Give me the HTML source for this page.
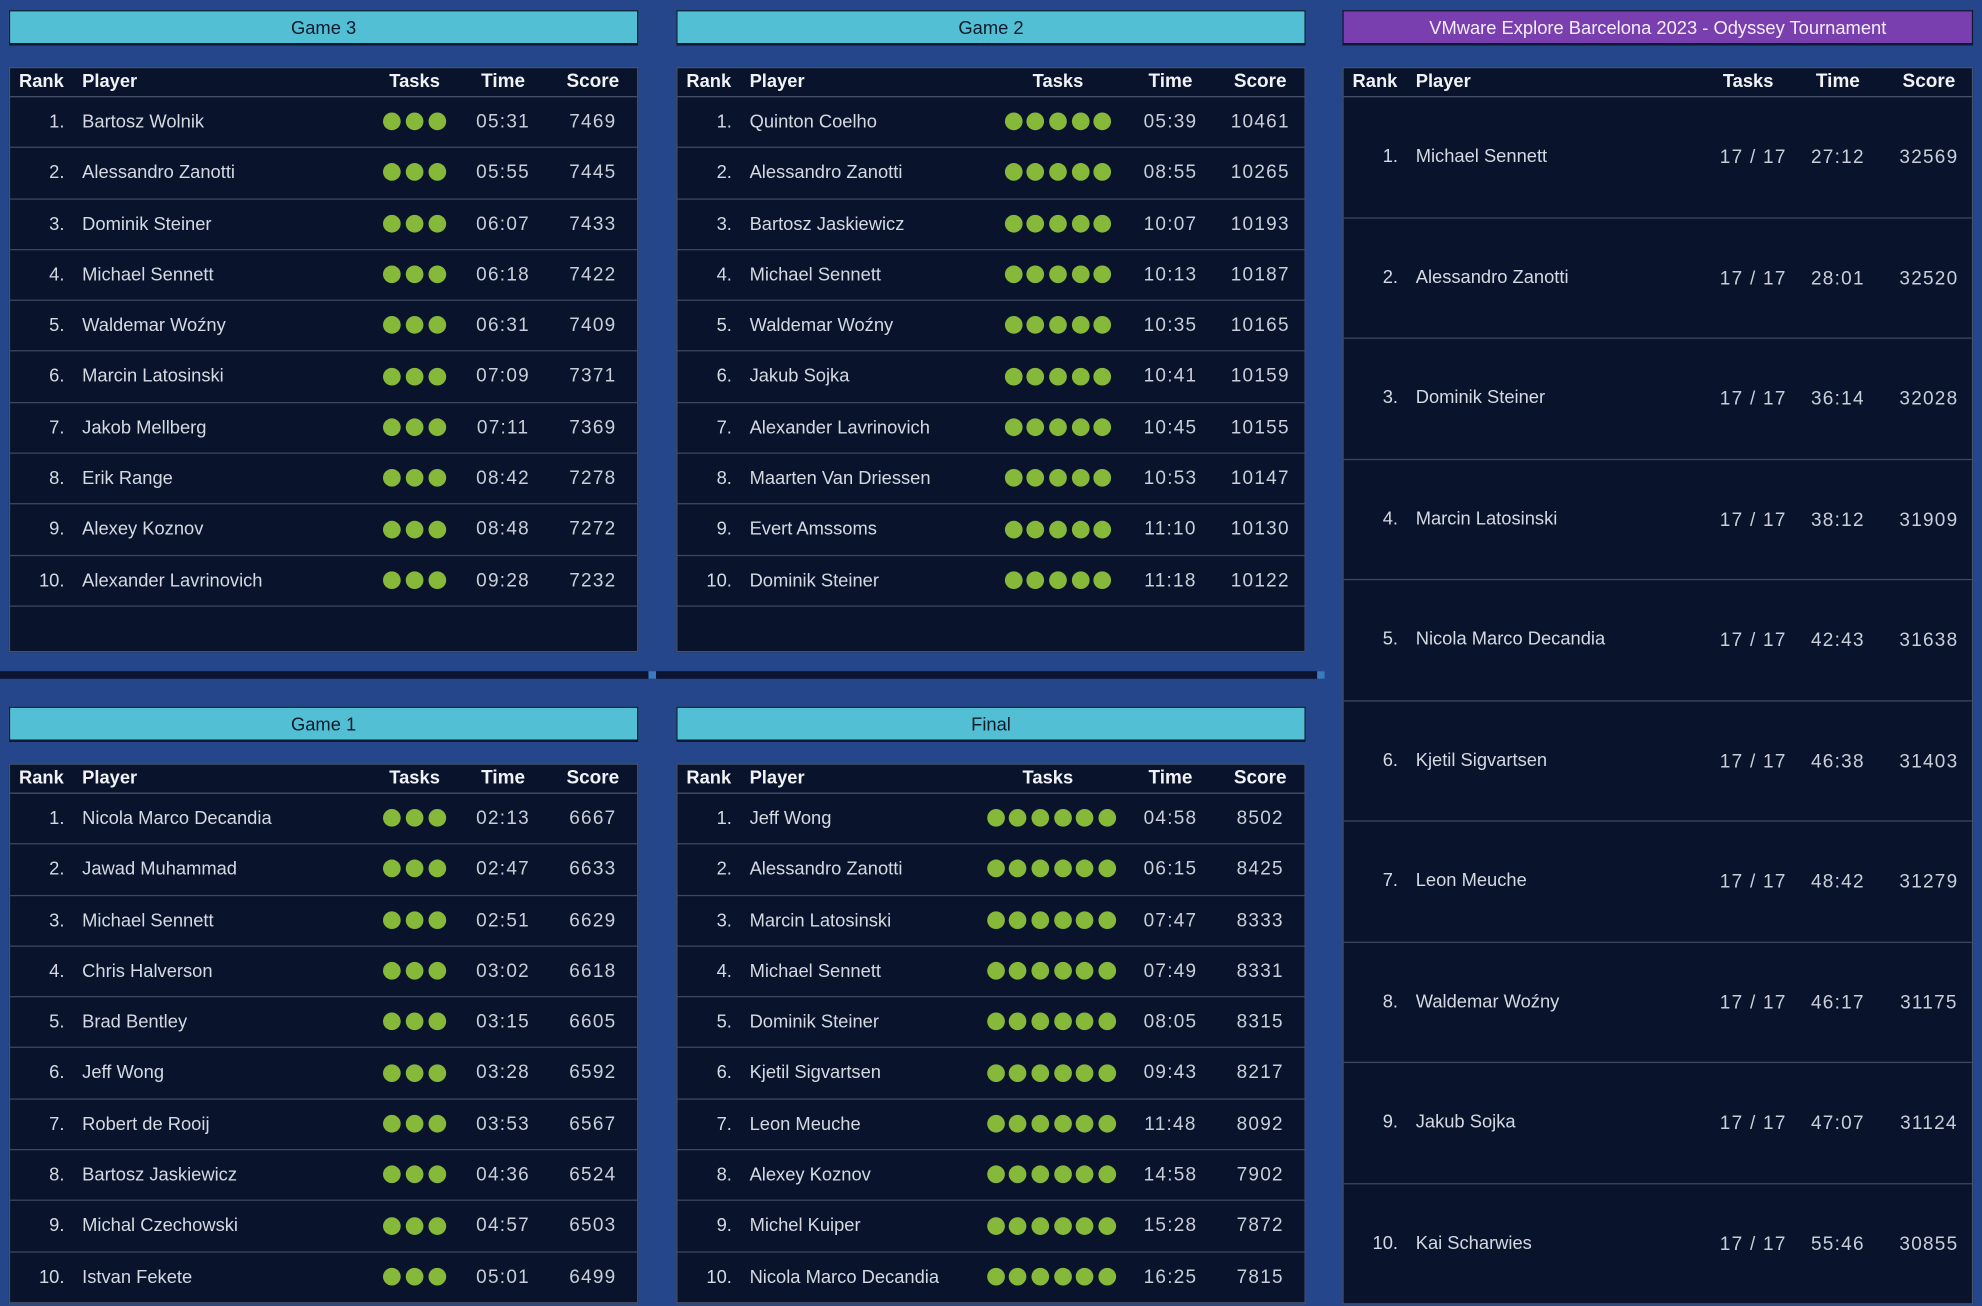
<!DOCTYPE html>
<html><head><meta charset="utf-8"><style>
html,body{margin:0;padding:0;width:1982px;height:1306px;overflow:hidden;background:#25468a;}
#w{position:absolute;left:0;top:0;width:1568px;height:1033px;transform:scale(1.26403);transform-origin:0 0;font-family:"Liberation Sans",sans-serif;}
.hd{position:absolute;height:28px;line-height:28px;text-align:center;font-size:14.5px;color:#0c1a2a;background:#52bfd4;border:1px solid #0a1a30;border-bottom:2px solid #0a1a30;box-sizing:border-box}
.hd.p{background:#7a3fae;color:#f2eefa}
.tb{position:absolute;background:#09142c;border:1px solid #45526b;box-sizing:border-box}
.th{position:relative;height:22px;border-bottom:1px solid #45526b;color:#f0f2f5;font-weight:bold;font-size:14.5px;line-height:22px}
.rw{position:relative;height:40.3px;border-bottom:1px solid #3c4862;box-sizing:border-box;color:#d4d9e2;font-size:14.5px;line-height:40px}
.big .rw{height:95.5px;line-height:95px}
.rw span,.th span{position:absolute;top:0;white-space:nowrap}
.a{left:0;width:43px;text-align:right}
.b{left:57px}
.c,.d,.e{width:100px;margin-left:-50px;text-align:center}
.d,.e{font-family:"Liberation Sans Narrow","Liberation Sans",sans-serif;color:#c9ced8;letter-spacing:1px;font-size:15px}
.dt{display:inline-block;width:14px;height:14px;border-radius:50%;background:#86b83a;margin:0 1.8px;vertical-align:middle;position:relative;top:-1px}
.g3 .c{left:320px}.g2 .c{left:301px}.gf .c{left:293px}.big .c{left:324px}
.d{left:390px}.e{left:461px}
.big .d{left:391px}.big .e{left:463px}
.th .a{left:7px;width:auto;text-align:left}
.sep{position:absolute;left:0;top:531px;width:1048px;height:6px;background:#0b1430}
.sq{position:absolute;top:531px;width:6px;height:6px;background:#3a7bc0}
</style></head><body><div id="w">

<div class="hd" style="left:7px;top:8px;width:498px">Game 3</div>
<div class="hd" style="left:535px;top:8px;width:498px">Game 2</div>
<div class="hd p" style="left:1062px;top:8px;width:499px">VMware Explore Barcelona 2023 - Odyssey Tournament</div>

<div class="tb g3" style="left:7px;top:53px;width:498px;height:463px">
<div class="th"><span class="a">Rank</span><span class="b">Player</span><span class="c">Tasks</span><span class="d" style="font-family:'Liberation Sans';letter-spacing:0;color:#f0f2f5">Time</span><span class="e" style="font-family:'Liberation Sans';letter-spacing:0;color:#f0f2f5">Score</span></div>
<div class="rw"><span class="a">1.</span><span class="b">Bartosz Wolnik</span><span class="c"><i class="dt"></i><i class="dt"></i><i class="dt"></i></span><span class="d">05:31</span><span class="e">7469</span></div>
<div class="rw"><span class="a">2.</span><span class="b">Alessandro Zanotti</span><span class="c"><i class="dt"></i><i class="dt"></i><i class="dt"></i></span><span class="d">05:55</span><span class="e">7445</span></div>
<div class="rw"><span class="a">3.</span><span class="b">Dominik Steiner</span><span class="c"><i class="dt"></i><i class="dt"></i><i class="dt"></i></span><span class="d">06:07</span><span class="e">7433</span></div>
<div class="rw"><span class="a">4.</span><span class="b">Michael Sennett</span><span class="c"><i class="dt"></i><i class="dt"></i><i class="dt"></i></span><span class="d">06:18</span><span class="e">7422</span></div>
<div class="rw"><span class="a">5.</span><span class="b">Waldemar Woźny</span><span class="c"><i class="dt"></i><i class="dt"></i><i class="dt"></i></span><span class="d">06:31</span><span class="e">7409</span></div>
<div class="rw"><span class="a">6.</span><span class="b">Marcin Latosinski</span><span class="c"><i class="dt"></i><i class="dt"></i><i class="dt"></i></span><span class="d">07:09</span><span class="e">7371</span></div>
<div class="rw"><span class="a">7.</span><span class="b">Jakob Mellberg</span><span class="c"><i class="dt"></i><i class="dt"></i><i class="dt"></i></span><span class="d">07:11</span><span class="e">7369</span></div>
<div class="rw"><span class="a">8.</span><span class="b">Erik Range</span><span class="c"><i class="dt"></i><i class="dt"></i><i class="dt"></i></span><span class="d">08:42</span><span class="e">7278</span></div>
<div class="rw"><span class="a">9.</span><span class="b">Alexey Koznov</span><span class="c"><i class="dt"></i><i class="dt"></i><i class="dt"></i></span><span class="d">08:48</span><span class="e">7272</span></div>
<div class="rw"><span class="a">10.</span><span class="b">Alexander Lavrinovich</span><span class="c"><i class="dt"></i><i class="dt"></i><i class="dt"></i></span><span class="d">09:28</span><span class="e">7232</span></div>
</div>

<div class="tb g2" style="left:535px;top:53px;width:498px;height:463px">
<div class="th"><span class="a">Rank</span><span class="b">Player</span><span class="c">Tasks</span><span class="d" style="font-family:'Liberation Sans';letter-spacing:0;color:#f0f2f5">Time</span><span class="e" style="font-family:'Liberation Sans';letter-spacing:0;color:#f0f2f5">Score</span></div>
<div class="rw"><span class="a">1.</span><span class="b">Quinton Coelho</span><span class="c"><i class="dt"></i><i class="dt"></i><i class="dt"></i><i class="dt"></i><i class="dt"></i></span><span class="d">05:39</span><span class="e">10461</span></div>
<div class="rw"><span class="a">2.</span><span class="b">Alessandro Zanotti</span><span class="c"><i class="dt"></i><i class="dt"></i><i class="dt"></i><i class="dt"></i><i class="dt"></i></span><span class="d">08:55</span><span class="e">10265</span></div>
<div class="rw"><span class="a">3.</span><span class="b">Bartosz Jaskiewicz</span><span class="c"><i class="dt"></i><i class="dt"></i><i class="dt"></i><i class="dt"></i><i class="dt"></i></span><span class="d">10:07</span><span class="e">10193</span></div>
<div class="rw"><span class="a">4.</span><span class="b">Michael Sennett</span><span class="c"><i class="dt"></i><i class="dt"></i><i class="dt"></i><i class="dt"></i><i class="dt"></i></span><span class="d">10:13</span><span class="e">10187</span></div>
<div class="rw"><span class="a">5.</span><span class="b">Waldemar Woźny</span><span class="c"><i class="dt"></i><i class="dt"></i><i class="dt"></i><i class="dt"></i><i class="dt"></i></span><span class="d">10:35</span><span class="e">10165</span></div>
<div class="rw"><span class="a">6.</span><span class="b">Jakub Sojka</span><span class="c"><i class="dt"></i><i class="dt"></i><i class="dt"></i><i class="dt"></i><i class="dt"></i></span><span class="d">10:41</span><span class="e">10159</span></div>
<div class="rw"><span class="a">7.</span><span class="b">Alexander Lavrinovich</span><span class="c"><i class="dt"></i><i class="dt"></i><i class="dt"></i><i class="dt"></i><i class="dt"></i></span><span class="d">10:45</span><span class="e">10155</span></div>
<div class="rw"><span class="a">8.</span><span class="b">Maarten Van Driessen</span><span class="c"><i class="dt"></i><i class="dt"></i><i class="dt"></i><i class="dt"></i><i class="dt"></i></span><span class="d">10:53</span><span class="e">10147</span></div>
<div class="rw"><span class="a">9.</span><span class="b">Evert Amssoms</span><span class="c"><i class="dt"></i><i class="dt"></i><i class="dt"></i><i class="dt"></i><i class="dt"></i></span><span class="d">11:10</span><span class="e">10130</span></div>
<div class="rw"><span class="a">10.</span><span class="b">Dominik Steiner</span><span class="c"><i class="dt"></i><i class="dt"></i><i class="dt"></i><i class="dt"></i><i class="dt"></i></span><span class="d">11:18</span><span class="e">10122</span></div>
</div>

<div class="sep"></div><div class="sq" style="left:513px"></div><div class="sq" style="left:1042px"></div>

<div class="hd" style="left:7px;top:559px;width:498px">Game 1</div>
<div class="hd" style="left:535px;top:559px;width:498px">Final</div>

<div class="tb g3" style="left:7px;top:604px;width:498px;height:428px">
<div class="th"><span class="a">Rank</span><span class="b">Player</span><span class="c">Tasks</span><span class="d" style="font-family:'Liberation Sans';letter-spacing:0;color:#f0f2f5">Time</span><span class="e" style="font-family:'Liberation Sans';letter-spacing:0;color:#f0f2f5">Score</span></div>
<div class="rw"><span class="a">1.</span><span class="b">Nicola Marco Decandia</span><span class="c"><i class="dt"></i><i class="dt"></i><i class="dt"></i></span><span class="d">02:13</span><span class="e">6667</span></div>
<div class="rw"><span class="a">2.</span><span class="b">Jawad Muhammad</span><span class="c"><i class="dt"></i><i class="dt"></i><i class="dt"></i></span><span class="d">02:47</span><span class="e">6633</span></div>
<div class="rw"><span class="a">3.</span><span class="b">Michael Sennett</span><span class="c"><i class="dt"></i><i class="dt"></i><i class="dt"></i></span><span class="d">02:51</span><span class="e">6629</span></div>
<div class="rw"><span class="a">4.</span><span class="b">Chris Halverson</span><span class="c"><i class="dt"></i><i class="dt"></i><i class="dt"></i></span><span class="d">03:02</span><span class="e">6618</span></div>
<div class="rw"><span class="a">5.</span><span class="b">Brad Bentley</span><span class="c"><i class="dt"></i><i class="dt"></i><i class="dt"></i></span><span class="d">03:15</span><span class="e">6605</span></div>
<div class="rw"><span class="a">6.</span><span class="b">Jeff Wong</span><span class="c"><i class="dt"></i><i class="dt"></i><i class="dt"></i></span><span class="d">03:28</span><span class="e">6592</span></div>
<div class="rw"><span class="a">7.</span><span class="b">Robert de Rooij</span><span class="c"><i class="dt"></i><i class="dt"></i><i class="dt"></i></span><span class="d">03:53</span><span class="e">6567</span></div>
<div class="rw"><span class="a">8.</span><span class="b">Bartosz Jaskiewicz</span><span class="c"><i class="dt"></i><i class="dt"></i><i class="dt"></i></span><span class="d">04:36</span><span class="e">6524</span></div>
<div class="rw"><span class="a">9.</span><span class="b">Michal Czechowski</span><span class="c"><i class="dt"></i><i class="dt"></i><i class="dt"></i></span><span class="d">04:57</span><span class="e">6503</span></div>
<div class="rw"><span class="a">10.</span><span class="b">Istvan Fekete</span><span class="c"><i class="dt"></i><i class="dt"></i><i class="dt"></i></span><span class="d">05:01</span><span class="e">6499</span></div>
</div>

<div class="tb gf" style="left:535px;top:604px;width:498px;height:428px">
<div class="th"><span class="a">Rank</span><span class="b">Player</span><span class="c">Tasks</span><span class="d" style="font-family:'Liberation Sans';letter-spacing:0;color:#f0f2f5">Time</span><span class="e" style="font-family:'Liberation Sans';letter-spacing:0;color:#f0f2f5">Score</span></div>
<div class="rw"><span class="a">1.</span><span class="b">Jeff Wong</span><span class="c"><i class="dt"></i><i class="dt"></i><i class="dt"></i><i class="dt"></i><i class="dt"></i><i class="dt"></i></span><span class="d">04:58</span><span class="e">8502</span></div>
<div class="rw"><span class="a">2.</span><span class="b">Alessandro Zanotti</span><span class="c"><i class="dt"></i><i class="dt"></i><i class="dt"></i><i class="dt"></i><i class="dt"></i><i class="dt"></i></span><span class="d">06:15</span><span class="e">8425</span></div>
<div class="rw"><span class="a">3.</span><span class="b">Marcin Latosinski</span><span class="c"><i class="dt"></i><i class="dt"></i><i class="dt"></i><i class="dt"></i><i class="dt"></i><i class="dt"></i></span><span class="d">07:47</span><span class="e">8333</span></div>
<div class="rw"><span class="a">4.</span><span class="b">Michael Sennett</span><span class="c"><i class="dt"></i><i class="dt"></i><i class="dt"></i><i class="dt"></i><i class="dt"></i><i class="dt"></i></span><span class="d">07:49</span><span class="e">8331</span></div>
<div class="rw"><span class="a">5.</span><span class="b">Dominik Steiner</span><span class="c"><i class="dt"></i><i class="dt"></i><i class="dt"></i><i class="dt"></i><i class="dt"></i><i class="dt"></i></span><span class="d">08:05</span><span class="e">8315</span></div>
<div class="rw"><span class="a">6.</span><span class="b">Kjetil Sigvartsen</span><span class="c"><i class="dt"></i><i class="dt"></i><i class="dt"></i><i class="dt"></i><i class="dt"></i><i class="dt"></i></span><span class="d">09:43</span><span class="e">8217</span></div>
<div class="rw"><span class="a">7.</span><span class="b">Leon Meuche</span><span class="c"><i class="dt"></i><i class="dt"></i><i class="dt"></i><i class="dt"></i><i class="dt"></i><i class="dt"></i></span><span class="d">11:48</span><span class="e">8092</span></div>
<div class="rw"><span class="a">8.</span><span class="b">Alexey Koznov</span><span class="c"><i class="dt"></i><i class="dt"></i><i class="dt"></i><i class="dt"></i><i class="dt"></i><i class="dt"></i></span><span class="d">14:58</span><span class="e">7902</span></div>
<div class="rw"><span class="a">9.</span><span class="b">Michel Kuiper</span><span class="c"><i class="dt"></i><i class="dt"></i><i class="dt"></i><i class="dt"></i><i class="dt"></i><i class="dt"></i></span><span class="d">15:28</span><span class="e">7872</span></div>
<div class="rw"><span class="a">10.</span><span class="b">Nicola Marco Decandia</span><span class="c"><i class="dt"></i><i class="dt"></i><i class="dt"></i><i class="dt"></i><i class="dt"></i><i class="dt"></i></span><span class="d">16:25</span><span class="e">7815</span></div>
</div>

<div class="tb big" style="left:1062px;top:53px;width:499px;height:979px">
<div class="th"><span class="a">Rank</span><span class="b">Player</span><span class="c" style="left:320px">Tasks</span><span class="d" style="font-family:'Liberation Sans';letter-spacing:0;color:#f0f2f5">Time</span><span class="e" style="font-family:'Liberation Sans';letter-spacing:0;color:#f0f2f5">Score</span></div>
<div class="rw"><span class="a">1.</span><span class="b">Michael Sennett</span><span class="c d" style="left:324px">17 / 17</span><span class="d">27:12</span><span class="e">32569</span></div>
<div class="rw"><span class="a">2.</span><span class="b">Alessandro Zanotti</span><span class="c d" style="left:324px">17 / 17</span><span class="d">28:01</span><span class="e">32520</span></div>
<div class="rw"><span class="a">3.</span><span class="b">Dominik Steiner</span><span class="c d" style="left:324px">17 / 17</span><span class="d">36:14</span><span class="e">32028</span></div>
<div class="rw"><span class="a">4.</span><span class="b">Marcin Latosinski</span><span class="c d" style="left:324px">17 / 17</span><span class="d">38:12</span><span class="e">31909</span></div>
<div class="rw"><span class="a">5.</span><span class="b">Nicola Marco Decandia</span><span class="c d" style="left:324px">17 / 17</span><span class="d">42:43</span><span class="e">31638</span></div>
<div class="rw"><span class="a">6.</span><span class="b">Kjetil Sigvartsen</span><span class="c d" style="left:324px">17 / 17</span><span class="d">46:38</span><span class="e">31403</span></div>
<div class="rw"><span class="a">7.</span><span class="b">Leon Meuche</span><span class="c d" style="left:324px">17 / 17</span><span class="d">48:42</span><span class="e">31279</span></div>
<div class="rw"><span class="a">8.</span><span class="b">Waldemar Woźny</span><span class="c d" style="left:324px">17 / 17</span><span class="d">46:17</span><span class="e">31175</span></div>
<div class="rw"><span class="a">9.</span><span class="b">Jakub Sojka</span><span class="c d" style="left:324px">17 / 17</span><span class="d">47:07</span><span class="e">31124</span></div>
<div class="rw" style="border-bottom:none"><span class="a">10.</span><span class="b">Kai Scharwies</span><span class="c d" style="left:324px">17 / 17</span><span class="d">55:46</span><span class="e">30855</span></div>
</div>

</div></body></html>
